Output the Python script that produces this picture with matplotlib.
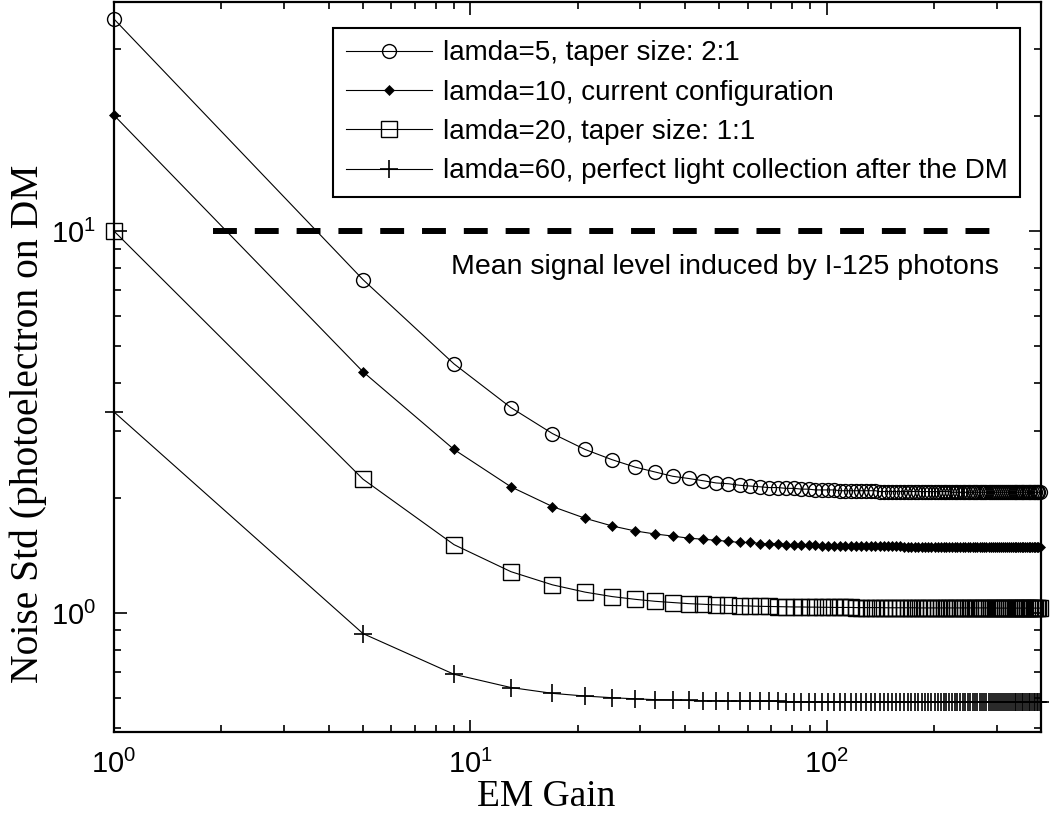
import numpy as np
import matplotlib
matplotlib.use("Agg")
import matplotlib.pyplot as plt

# EM gain grid (step of 4, as in the reference)
gain = np.arange(1, 398, 4)

# noise std, one value per gain point
lam5 = [35.9, 7.46, 4.49, 3.45, 2.95, 2.68, 2.52, 2.41, 2.34, 2.28,
        2.25, 2.22, 2.19, 2.18, 2.16, 2.15, 2.14, 2.13, 2.13, 2.12,
        2.12, 2.11, 2.11, 2.10, 2.10, 2.10, 2.10, 2.09, 2.09, 2.09,
        2.09, 2.09, 2.09, 2.09, 2.09, 2.08, 2.08, 2.08, 2.08, 2.08,
        2.08, 2.08, 2.08, 2.08, 2.08, 2.08, 2.08, 2.08, 2.08, 2.08,
        2.08, 2.08, 2.08, 2.08, 2.08, 2.08, 2.07, 2.07, 2.07, 2.07,
        2.07, 2.07, 2.07, 2.07, 2.07, 2.07, 2.07, 2.07, 2.07, 2.07,
        2.07, 2.07, 2.07, 2.07, 2.07, 2.07, 2.07, 2.07, 2.07, 2.07,
        2.07, 2.07, 2.07, 2.07, 2.07, 2.07, 2.07, 2.07, 2.07, 2.07,
        2.07, 2.07, 2.07, 2.07, 2.07, 2.07, 2.07, 2.07, 2.07, 2.07]

lam10 = [20.1, 4.28, 2.68, 2.14, 1.90, 1.77, 1.69, 1.64, 1.61, 1.59,
         1.57, 1.56, 1.55, 1.54, 1.53, 1.53, 1.52, 1.52, 1.52, 1.51,
         1.51, 1.51, 1.51, 1.51, 1.50, 1.50, 1.50, 1.50, 1.50, 1.50,
         1.50, 1.50, 1.50, 1.50, 1.50, 1.50, 1.50, 1.50, 1.50, 1.50,
         1.50, 1.49, 1.49, 1.49, 1.49, 1.49, 1.49, 1.49, 1.49, 1.49,
         1.49, 1.49, 1.49, 1.49, 1.49, 1.49, 1.49, 1.49, 1.49, 1.49,
         1.49, 1.49, 1.49, 1.49, 1.49, 1.49, 1.49, 1.49, 1.49, 1.49,
         1.49, 1.49, 1.49, 1.49, 1.49, 1.49, 1.49, 1.49, 1.49, 1.49,
         1.49, 1.49, 1.49, 1.49, 1.49, 1.49, 1.49, 1.49, 1.49, 1.49,
         1.49, 1.49, 1.49, 1.49, 1.49, 1.49, 1.49, 1.49, 1.49, 1.49]

lam20 = [10.0, 2.24, 1.51, 1.283, 1.185, 1.134, 1.104, 1.086, 1.073, 1.065,
         1.058, 1.054, 1.050, 1.047, 1.045, 1.043, 1.041, 1.040, 1.039, 1.038,
         1.037, 1.037, 1.036, 1.036, 1.035, 1.035, 1.034, 1.034, 1.034, 1.034,
         1.033, 1.033, 1.033, 1.033, 1.033, 1.033, 1.032, 1.032, 1.032, 1.032,
         1.032, 1.032, 1.032, 1.032, 1.032, 1.031, 1.031, 1.031, 1.031, 1.031,
         1.031, 1.031, 1.031, 1.031, 1.031, 1.031, 1.031, 1.031, 1.031, 1.031,
         1.031, 1.031, 1.031, 1.031, 1.031, 1.031, 1.031, 1.031, 1.031, 1.031,
         1.031, 1.031, 1.031, 1.031, 1.031, 1.030, 1.030, 1.030, 1.030, 1.030,
         1.030, 1.030, 1.030, 1.030, 1.030, 1.030, 1.030, 1.030, 1.030, 1.030,
         1.030, 1.030, 1.030, 1.030, 1.030, 1.030, 1.030, 1.030, 1.030, 1.030]

lam60 = [3.36, 0.883, 0.691, 0.638, 0.616, 0.606, 0.600, 0.596, 0.593, 0.592,
         0.590, 0.589, 0.589, 0.588, 0.588, 0.587, 0.587, 0.587, 0.587, 0.586,
         0.586, 0.586, 0.586, 0.586, 0.586, 0.586, 0.586, 0.586, 0.586, 0.586,
         0.586, 0.586, 0.586, 0.586, 0.586, 0.586, 0.585, 0.585, 0.585, 0.585,
         0.585, 0.585, 0.585, 0.585, 0.585, 0.585, 0.585, 0.585, 0.585, 0.585,
         0.585, 0.585, 0.585, 0.585, 0.585, 0.585, 0.585, 0.585, 0.585, 0.585,
         0.585, 0.585, 0.585, 0.585, 0.585, 0.585, 0.585, 0.585, 0.585, 0.585,
         0.585, 0.585, 0.585, 0.585, 0.585, 0.585, 0.585, 0.585, 0.585, 0.585,
         0.585, 0.585, 0.585, 0.585, 0.585, 0.585, 0.585, 0.585, 0.585, 0.585,
         0.585, 0.585, 0.585, 0.585, 0.585, 0.585, 0.585, 0.585, 0.585, 0.585]

labels = ["lamda=5, taper size: 2:1",
          "lamda=10, current configuration",
          "lamda=20, taper size: 1:1",
          "lamda=60, perfect light collection after the DM"]

signal_level = 10
signal_gain = [1.9, 290]
signal_text = "Mean signal level induced by I-125 photons"

sans = ["Liberation Sans", "DejaVu Sans"]
serif = ["Liberation Serif", "DejaVu Serif"]
plt.rcParams["font.family"] = sans
plt.rcParams["mathtext.fontset"] = "custom"
plt.rcParams["mathtext.rm"] = "Liberation Sans"
plt.rcParams["mathtext.it"] = "Liberation Sans"
plt.rcParams["mathtext.bf"] = "Liberation Sans"

fig = plt.figure(figsize=(10.5, 8.27), dpi=100)
ax = fig.add_axes([0.1086, 0.1149, 0.8829, 0.8827])

ax.plot(gain, lam5, "-o", color="k", lw=0.8, ms=10, mfc="none", mew=1.0,
        clip_on=False, label=labels[0])
ax.plot(gain, lam10, "-D", color="k", lw=0.8, ms=5, mfc="k", mew=0.5,
        clip_on=False, label=labels[1])
ax.plot(gain, lam20, "-s", color="k", lw=0.8, ms=11, mfc="none", mew=1.0,
        clip_on=False, label=labels[2])
ax.plot(gain, lam60, "-+", color="k", lw=0.8, ms=13, mew=1.2,
        clip_on=False, label=labels[3])

ax.plot(signal_gain, [signal_level, signal_level], color="k", lw=4.3,
        linestyle=(0, (4, 3)), dash_capstyle="butt")
ax.text(8.8, 8.05, signal_text, ha="left", va="center", fontsize=20.5,
        family=sans)

ax.set_xscale("log")
ax.set_yscale("log")
ax.set_xlim(1, 400)
ax.set_ylim(0.488, 39.8)

ax.tick_params(which="both", direction="in", top=True, right=True, width=1.2,
               labelsize=21, pad=13)
ax.tick_params(which="major", length=9)
ax.tick_params(which="minor", length=5)
for sp in ax.spines.values():
    sp.set_linewidth(1.6)

ax.set_xlabel("EM Gain", fontsize=27, family=serif)
ax.xaxis.set_label_coords(0.466, -0.089)
ax.xaxis.label.set_va("center")
ax.set_ylabel("Noise Std (photoelectron on DM", fontsize=28.5,
              family=serif, va="center")
ax.yaxis.set_label_coords(-0.093, 0.422)

leg = ax.legend(loc="upper right", bbox_to_anchor=(0.977, 0.9644),
                prop={"family": sans, "size": 20},
                frameon=True, fancybox=False, edgecolor="k", framealpha=1,
                handlelength=3.1, handletextpad=0.38, labelspacing=0.48,
                borderpad=0.45, borderaxespad=0)
leg.get_frame().set_linewidth(1.5)

fig.savefig("out.png", dpi=100)
